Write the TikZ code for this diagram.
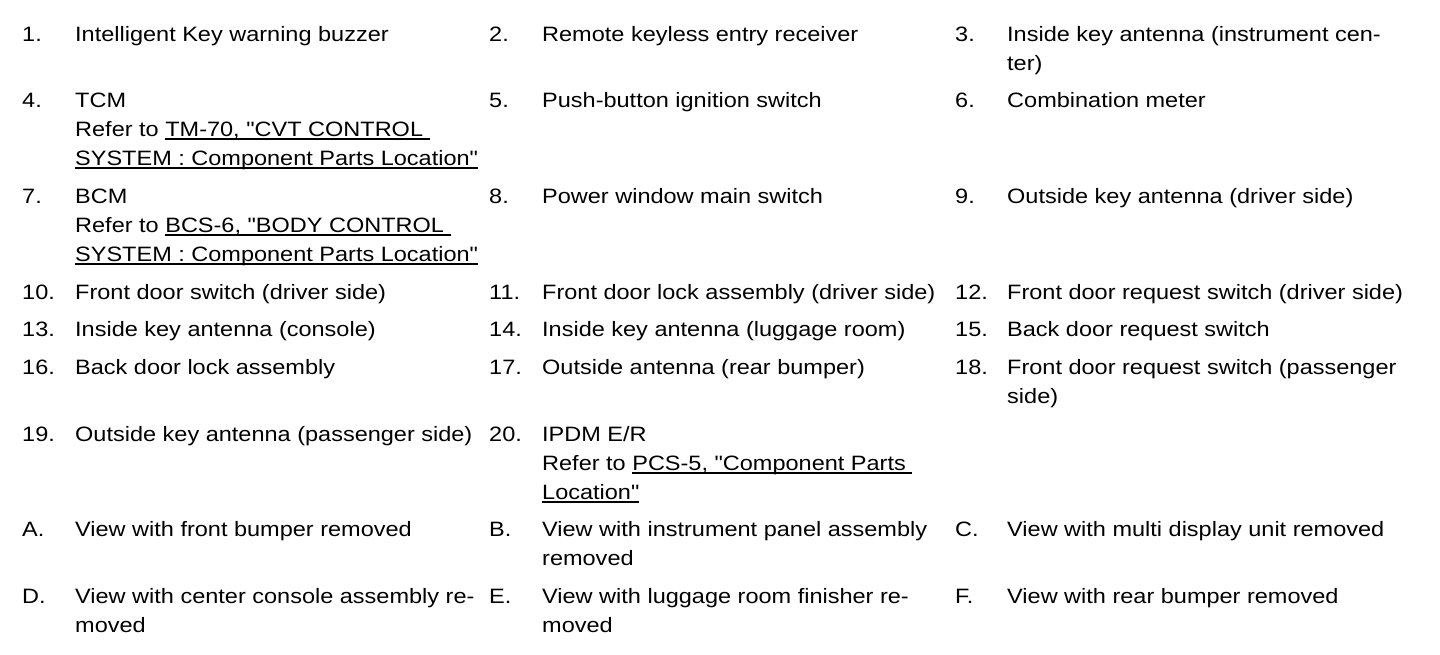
\documentclass[tikz,border=0pt]{standalone}
\usepackage{fontspec}
\setmainfont{Liberation Sans}[FakeStretch=1.13,Ligatures=TeXOff]
\newcommand\myul[1]{\setbox0\hbox{#1}\rlap{\rule[-3.6pt]{\wd0}{1.6pt}}\box0}
\newcommand\q{\symbol{34}}
\begin{document}
\begin{tikzpicture}[x=1pt,y=-1pt,
  txt/.style={anchor=base west,inner sep=0pt,font=\fontsize{20.8}{24}\selectfont}]
\useasboundingbox (0,0) rectangle (1440,654);
% row 1
\node[txt] (n1) at (22,41) {1.};
\node[txt] (t1) at (75,41) {Intelligent Key warning buzzer};
\node[txt] (n2) at (489,41) {2.};
\node[txt] (t2) at (542,41) {Remote keyless entry receiver};
\node[txt] (n3) at (955,41) {3.};
\node[txt] (t3) at (1007,41) {Inside key antenna (instrument cen-};
\node[txt] (t3b) at (1007,70) {ter)};
% row 2
\node[txt] (n4) at (22,107) {4.};
\node[txt] (t4) at (75,107) {TCM};
\node[txt] (t4b) at (75,136) {Refer to \myul{TM-70, \q CVT CONTROL }};
\node[txt] (t4c) at (75,165) {\myul{SYSTEM : Component Parts Location\q}};
\node[txt] (n5) at (489,107) {5.};
\node[txt] (t5) at (542,107) {Push-button ignition switch};
\node[txt] (n6) at (955,107) {6.};
\node[txt] (t6) at (1007,107) {Combination meter};
% row 3
\node[txt] (n7) at (22,203) {7.};
\node[txt] (t7) at (75,203) {BCM};
\node[txt] (t7b) at (75,232) {Refer to \myul{BCS-6, \q BODY CONTROL }};
\node[txt] (t7c) at (75,261) {\myul{SYSTEM : Component Parts Location\q}};
\node[txt] (n8) at (489,203) {8.};
\node[txt] (t8) at (542,203) {Power window main switch};
\node[txt] (n9) at (955,203) {9.};
\node[txt] (t9) at (1007,203) {Outside key antenna (driver side)};
% row 4
\node[txt] (n10) at (22,299) {10.};
\node[txt] (t10) at (75,299) {Front door switch (driver side)};
\node[txt] (n11) at (489,299) {11.};
\node[txt] (t11) at (542,299) {Front door lock assembly (driver side)};
\node[txt] (n12) at (955,299) {12.};
\node[txt] (t12) at (1007,299) {Front door request switch (driver side)};
% row 5
\node[txt] (n13) at (22,336) {13.};
\node[txt] (t13) at (75,336) {Inside key antenna (console)};
\node[txt] (n14) at (489,336) {14.};
\node[txt] (t14) at (542,336) {Inside key antenna (luggage room)};
\node[txt] (n15) at (955,336) {15.};
\node[txt] (t15) at (1007,336) {Back door request switch};
% row 6
\node[txt] (n16) at (22,374) {16.};
\node[txt] (t16) at (75,374) {Back door lock assembly};
\node[txt] (n17) at (489,374) {17.};
\node[txt] (t17) at (542,374) {Outside antenna (rear bumper)};
\node[txt] (n18) at (955,374) {18.};
\node[txt] (t18) at (1007,374) {Front door request switch (passenger};
\node[txt] (t18b) at (1007,403) {side)};
% row 7
\node[txt] (n19) at (22,441) {19.};
\node[txt] (t19) at (75,441) {Outside key antenna (passenger side)};
\node[txt] (n20) at (489,441) {20.};
\node[txt] (t20) at (542,441) {IPDM E/R};
\node[txt] (t20b) at (542,470) {Refer to \myul{PCS-5, \q Component Parts }};
\node[txt] (t20c) at (542,499) {\myul{Location\q}};
% row 8
\node[txt] (nA) at (22,536) {A.};
\node[txt] (tA) at (75,536) {View with front bumper removed};
\node[txt] (nB) at (489,536) {B.};
\node[txt] (tB) at (542,536) {View with instrument panel assembly};
\node[txt] (tBb) at (542,565) {removed};
\node[txt] (nC) at (955,536) {C.};
\node[txt] (tC) at (1007,536) {View with multi display unit removed};
% row 9
\node[txt] (nD) at (22,603) {D.};
\node[txt] (tD) at (75,603) {View with center console assembly re-};
\node[txt] (tDb) at (75,632) {moved};
\node[txt] (nE) at (489,603) {E.};
\node[txt] (tE) at (542,603) {View with luggage room finisher re-};
\node[txt] (tEb) at (542,632) {moved};
\node[txt] (nF) at (955,603) {F.};
\node[txt] (tF) at (1007,603) {View with rear bumper removed};
\end{tikzpicture}
\end{document}
